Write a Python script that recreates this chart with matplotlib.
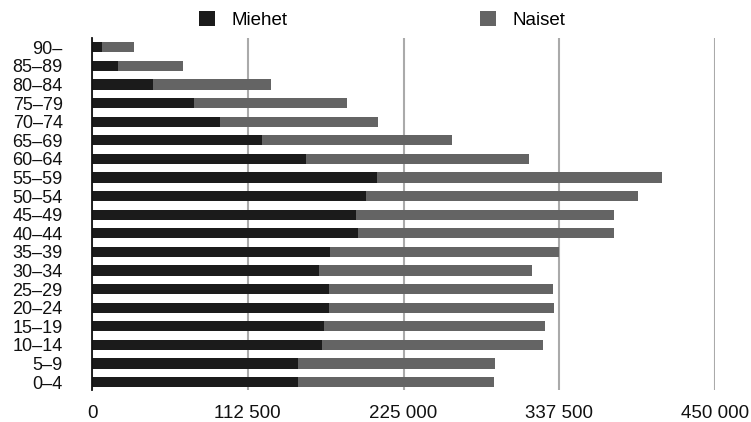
import matplotlib.pyplot as plt
from matplotlib.ticker import FuncFormatter
import numpy as np

plt.rcParams['font.family'] = ['Liberation Sans', 'DejaVu Sans']

ages = ["0–4", "5–9", "10–14", "15–19", "20–24", "25–29", "30–34", "35–39",
        "40–44", "45–49", "50–54", "55–59", "60–64", "65–69", "70–74",
        "75–79", "80–84", "85–89", "90–"]
miehet = [148700, 148700, 166100, 167500, 171100, 171100, 163900, 171800,
          192100, 190600, 197900, 205800, 154500, 122800, 92400,
          73700, 44000, 18800, 7200]
yhteensa = [290300, 291000, 325600, 327100, 333600, 332900, 317700, 337200,
            376900, 376900, 394200, 411700, 315600, 260000, 206500,
            184200, 129000, 65700, 30100]
naiset = [t - m for t, m in zip(yhteensa, miehet)]

fig = plt.figure(figsize=(7.51, 4.22), dpi=100)
ax = fig.add_axes([92 / 751, 1 - 390 / 422, (715 - 92) / 751, (390 - 38) / 422])

y = np.arange(len(ages))
ax.barh(y, miehet, height=0.55, color="#1b1b1b", label="Miehet", zorder=3)
ax.barh(y, naiset, left=miehet, height=0.55, color="#646464", label="Naiset", zorder=3)

ax.set_xlim(0, 450000)
ax.set_ylim(-0.43, 18.5)
ax.set_xticks([0, 112500, 225000, 337500, 450000])
ax.xaxis.set_major_formatter(FuncFormatter(lambda v, p: f"{int(v):,}".replace(",", " ")))
ax.set_yticks(y)
ax.set_yticklabels(ages)
ax.tick_params(axis="both", length=0, colors="#111111")
ax.tick_params(axis="x", pad=11, labelsize=13.5)
ax.tick_params(axis="y", pad=21, labelsize=13)

ax.grid(axis="x", color="#aaaaaa", linewidth=1.5, zorder=0)
for s in ["top", "right", "bottom"]:
    ax.spines[s].set_visible(False)
ax.spines["left"].set_color("#111111")
ax.spines["left"].set_linewidth(1.3)
ax.spines["left"].set_zorder(4)

fig.legend(loc="center", bbox_to_anchor=(382 / 751, 1 - 20 / 422), ncol=2,
           frameon=False, fontsize=13.5, handlelength=0.85, handleheight=0.85,
           handletextpad=0.85, columnspacing=10.3)

fig.savefig("out.png", dpi=100)
